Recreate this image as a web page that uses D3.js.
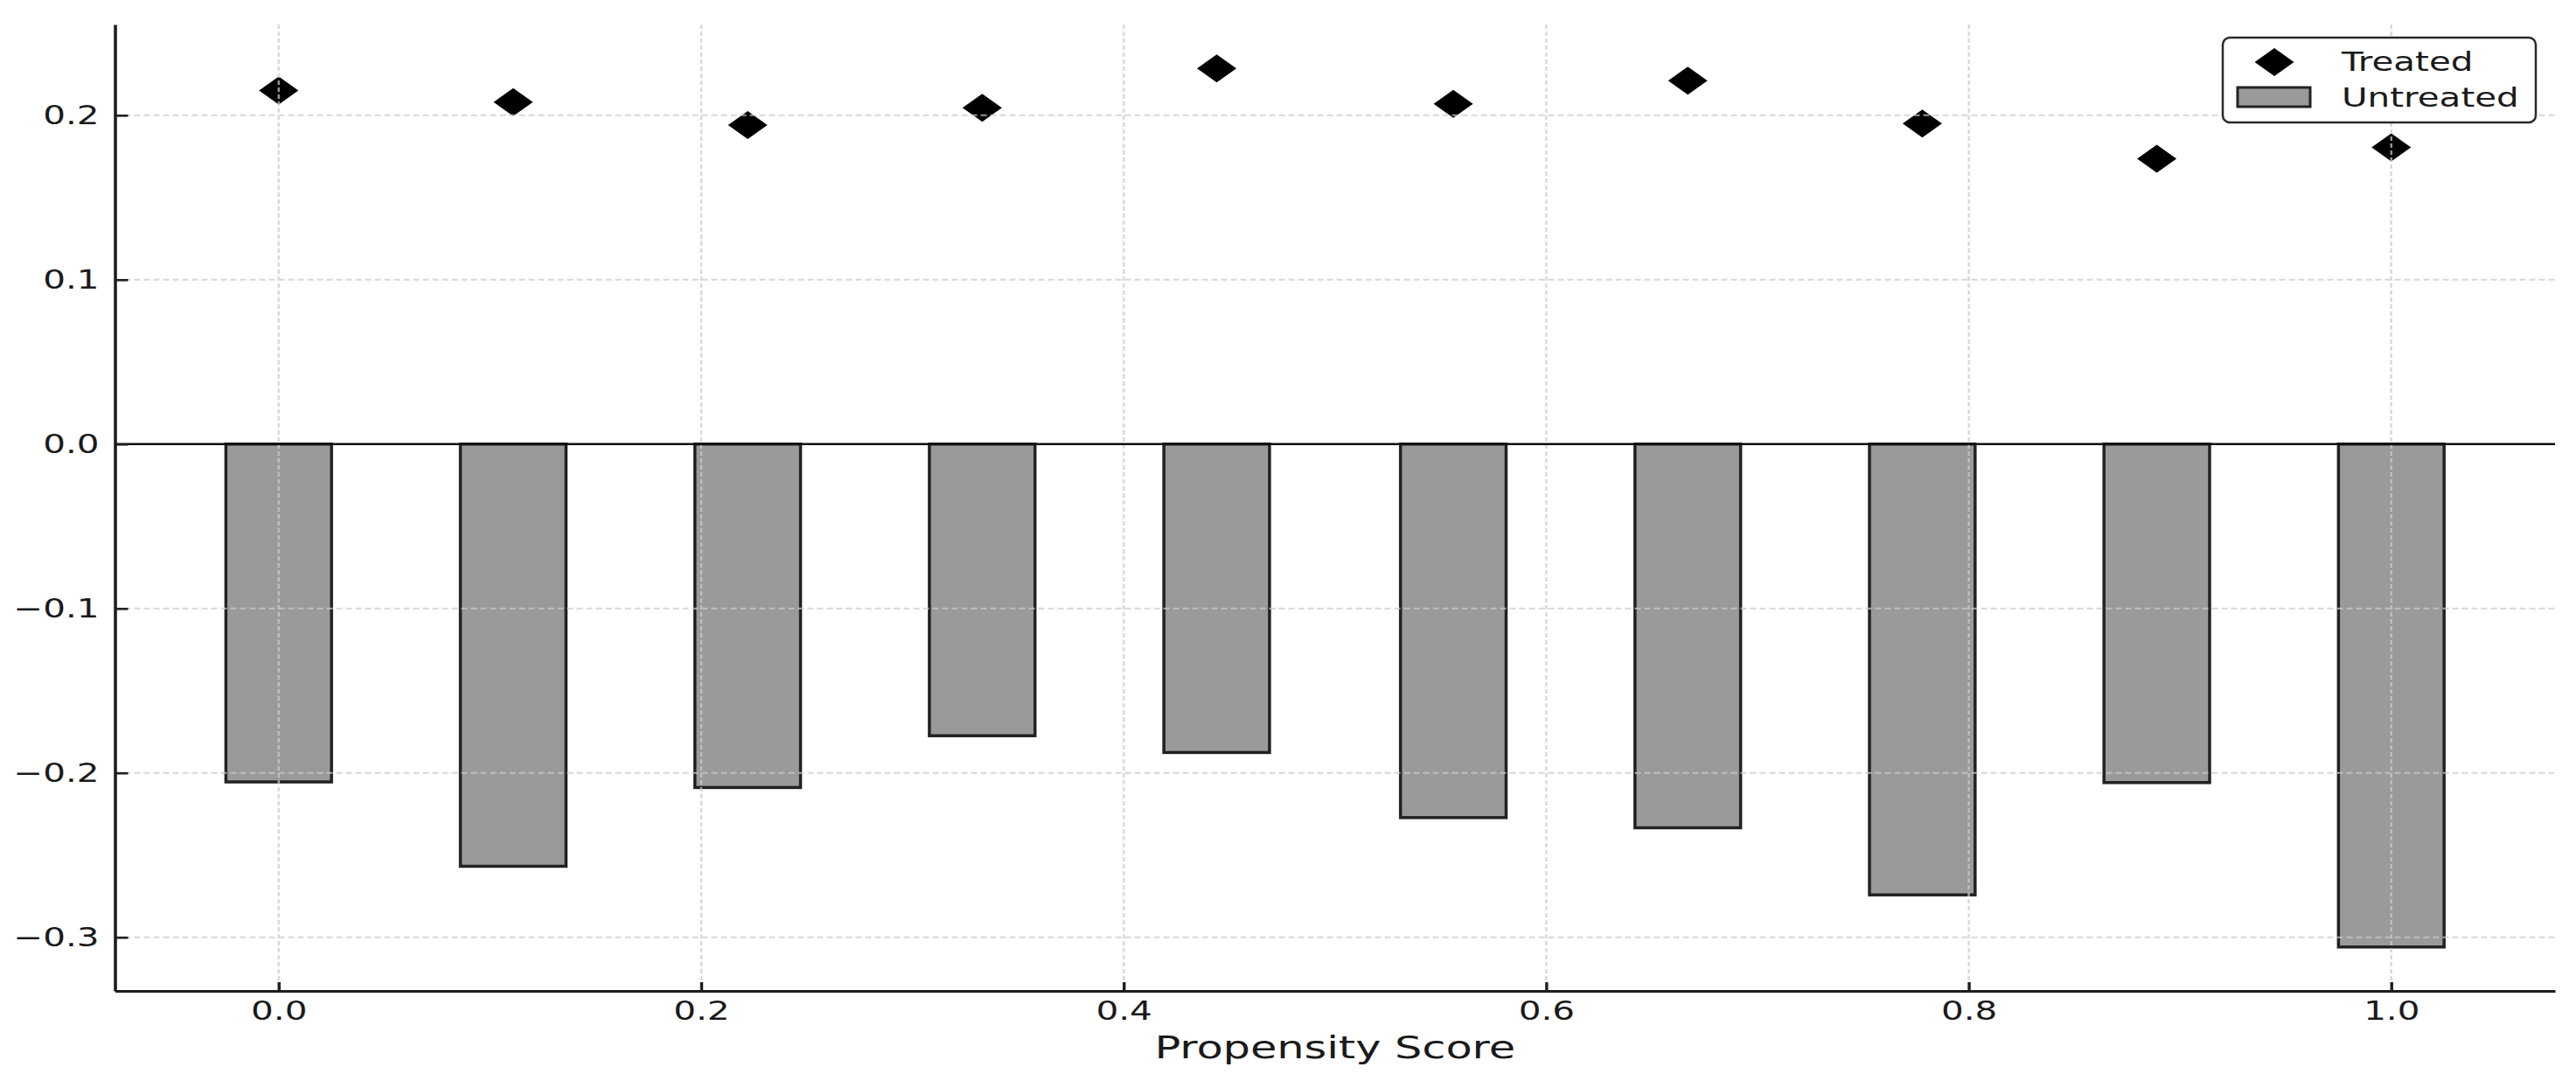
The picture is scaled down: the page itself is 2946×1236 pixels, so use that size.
<!DOCTYPE html>
<html>
<head>
<meta charset="utf-8">
<script src="https://cdn.jsdelivr.net/npm/d3@7"></script>
<style>
  html, body { margin: 0; padding: 0; background: #ffffff; }
  svg { display: block; font-family: "DejaVu Sans", sans-serif; }
</style>
</head>
<body>
<svg id="chart" width="2946" height="1236"></svg>
<script>
// ---------------- data ----------------
const propensityScores = [0.0, 0.111, 0.222, 0.333, 0.444, 0.556, 0.667, 0.778, 0.889, 1.0];
const treatedValues   = [0.215, 0.208, 0.194, 0.2045, 0.2285, 0.207, 0.221, 0.195, 0.1735, 0.1805];
const untreatedValues = [-0.2055, -0.2568, -0.2089, -0.1774, -0.1876, -0.2272, -0.2334, -0.2742, -0.2059, -0.3059];
const xTickValues = [0.0, 0.2, 0.4, 0.6, 0.8, 1.0];
const yTickValues = [-0.3, -0.2, -0.1, 0.0, 0.1, 0.2];
const seriesNames = ["Treated", "Untreated"];
const xAxisLabel = "Propensity Score";

// ---------------- layout ----------------
const W = 2946, H = 1236;
const plot = { left: 131.5, right: 2922, top: 28, bottom: 1133 };
const barWidth = 0.05;
const STRETCH = 1.37;      // horizontal stretch of text (reference is stretched)
const tickFont = 29.5, labelFont = 36;
const textColor = "#1a1a1a";

const svg = d3.select("#chart");

// x domain: bar extent + 5% margin (matplotlib style)
const xMin = d3.min(propensityScores) - barWidth / 2;
const xMax = d3.max(propensityScores) + barWidth / 2;
const xPad = (xMax - xMin) * 0.05;
const x = d3.scaleLinear().domain([xMin - xPad, xMax + xPad]).range([plot.left, plot.right]);

const yLo = Math.min(0, d3.min(untreatedValues));
const yHi = Math.max(0, d3.max(treatedValues));
const yPad = (yHi - yLo) * 0.05;
const y = d3.scaleLinear().domain([yLo - yPad, yHi + yPad]).range([plot.bottom, plot.top]);

// ---------------- bars ----------------
const barsG = svg.append("g");
barsG.selectAll("rect")
  .data(propensityScores.map((p, i) => ({ p, v: untreatedValues[i] })))
  .join("rect")
  .attr("x", d => x(d.p - barWidth / 2))
  .attr("width", d => x(d.p + barWidth / 2) - x(d.p - barWidth / 2))
  .attr("y", d => Math.min(y(0), y(d.v)))
  .attr("height", d => Math.abs(y(d.v) - y(0)))
  .attr("fill", "#9a9a9a")
  .attr("stroke", "#222222")
  .attr("stroke-width", 3.5);

// ---------------- treated diamonds ----------------
const dW = 22.5, dH = 16;
const diamondPath = `M0,${-dH}L${dW},0L0,${dH}L${-dW},0Z`;
svg.append("g").selectAll("path")
  .data(propensityScores.map((p, i) => ({ p, v: treatedValues[i] })))
  .join("path")
  .attr("d", diamondPath)
  .attr("transform", d => `translate(${x(d.p)},${y(d.v)})`)
  .attr("fill", "#000000");

// ---------------- grid (drawn on top, light) ----------------
const gridG = svg.append("g").attr("opacity", 0.75);
gridG.selectAll("line.h")
  .data(yTickValues.filter(v => v !== 0))
  .join("line")
  .attr("class", "h")
  .attr("x1", plot.left).attr("x2", plot.right)
  .attr("y1", d => y(d)).attr("y2", d => y(d))
  .attr("stroke", "#cccccc")
  .attr("stroke-width", 2)
  .attr("stroke-dasharray", "7,4");
gridG.selectAll("line.v")
  .data(xTickValues)
  .join("line")
  .attr("class", "v")
  .attr("x1", d => x(d)).attr("x2", d => x(d))
  .attr("y1", plot.top).attr("y2", plot.bottom)
  .attr("stroke", "#cccccc")
  .attr("stroke-width", 2.4)
  .attr("stroke-dasharray", "5,3");

// ---------------- zero line ----------------
svg.append("line")
  .attr("x1", plot.left).attr("x2", plot.right)
  .attr("y1", y(0)).attr("y2", y(0))
  .attr("stroke", "#111111")
  .attr("stroke-width", 2.5);

// ---------------- axes ----------------
const fmt = d3.format(".1f");
const yAxis = d3.axisLeft(y).tickValues(yTickValues).tickFormat(fmt)
  .tickSize(-15).tickSizeOuter(0).tickPadding(0);
const yG = svg.append("g").attr("transform", `translate(${plot.left},0)`).call(yAxis);
yG.select(".domain").attr("stroke", "#1e1e1e").attr("stroke-width", 3.6);
yG.selectAll(".tick line").attr("stroke", "#1e1e1e").attr("stroke-width", 2.6);
yG.selectAll(".tick text")
  .attr("x", null)
  .attr("transform", `translate(-18,0) scale(${STRETCH},1)`)
  .attr("font-size", tickFont)
  .attr("font-family", "DejaVu Sans")
  .attr("fill", textColor);

const xAxis = d3.axisBottom(x).tickValues(xTickValues).tickFormat(fmt)
  .tickSize(-10).tickSizeOuter(0).tickPadding(0);
const xG = svg.append("g").attr("transform", `translate(0,${plot.bottom})`).call(xAxis);
xG.select(".domain").attr("stroke", "#1e1e1e").attr("stroke-width", 3);
xG.selectAll(".tick line").attr("stroke", "#1e1e1e").attr("stroke-width", 3.4);
xG.selectAll(".tick text")
  .attr("y", null)
  .attr("transform", `translate(0,12) scale(${STRETCH},1)`)
  .attr("font-size", tickFont)
  .attr("font-family", "DejaVu Sans")
  .attr("fill", textColor);

svg.append("text")
  .attr("transform", `translate(${(plot.left + plot.right) / 2},1210) scale(${STRETCH},1)`)
  .attr("text-anchor", "middle")
  .attr("font-size", labelFont)
  .attr("fill", textColor)
  .text(xAxisLabel);

// ---------------- legend ----------------
const lg = svg.append("g").attr("transform", "translate(2542,43)");
lg.append("rect")
  .attr("width", 358).attr("height", 97)
  .attr("rx", 8).attr("ry", 8)
  .attr("fill", "#ffffff")
  .attr("stroke", "#2a2a2a")
  .attr("stroke-width", 2.5);
lg.append("path")
  .attr("d", diamondPath)
  .attr("transform", "translate(59,28)")
  .attr("fill", "#000000");
lg.append("rect")
  .attr("x", 17).attr("y", 57).attr("width", 83).attr("height", 22)
  .attr("fill", "#9a9a9a").attr("stroke", "#222222").attr("stroke-width", 3);
lg.selectAll("text")
  .data(seriesNames)
  .join("text")
  .attr("transform", (d, i) => `translate(136,${27 + i * 41}) scale(${STRETCH},1)`)
  .attr("dy", "0.36em")
  .attr("font-size", tickFont)
  .attr("fill", textColor)
  .text(d => d);
</script>
</body>
</html>
